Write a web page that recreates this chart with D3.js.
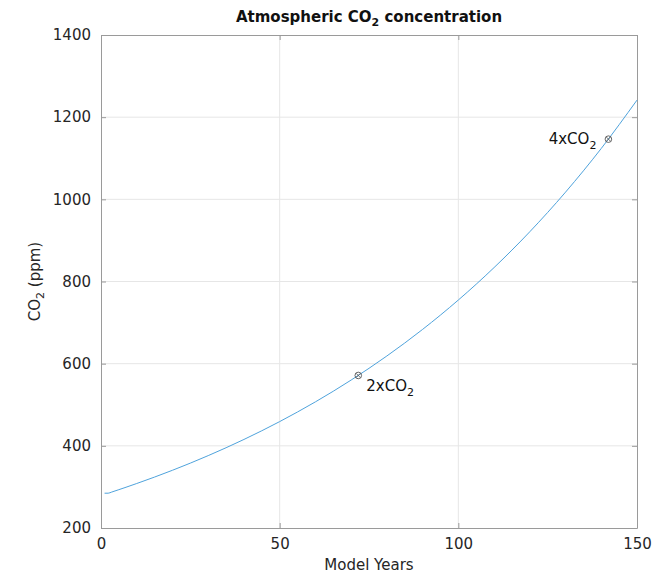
<!DOCTYPE html>
<html>
<head>
<meta charset="utf-8">
<script src="https://cdn.jsdelivr.net/npm/d3@7"></script>
<style>
  body { margin: 0; background: #fff; }
  text { font-family: "DejaVu Sans", sans-serif; }
</style>
</head>
<body>
<div id="wrapper"></div>
<script>
// values
const years = [1, 2, 3, 5, 7, 10, 15, 20, 30, 40, 50, 60, 70, 80, 90, 100, 110, 120, 130, 140, 150]
const co2 = [284.7, 284.7, 287.5, 293.3, 299.2, 308.3, 324.0, 340.5, 376.2, 415.5, 459.0, 507.0, 560.1, 618.7, 683.4, 754.9, 833.9, 921.1, 1017.5, 1123.9, 1241.5]
const markYears = [72, 142]
const markValues = [571.3, 1146.5]
const markLabels = ["2x", "4x"]
const xTicks = [0, 50, 100, 150]
const yTicks = [200, 400, 600, 800, 1000, 1200, 1400]

function draw() {
    const dimension = {
        width: 657,
        height: 575,
        margin: { top: 35, left: 101, right: 20, bottom: 47 }
    }
    dimension.boundedWidth = dimension.width - dimension.margin.left - dimension.margin.right
    dimension.boundedHeight = dimension.height - dimension.margin.top - dimension.margin.bottom

    const svg = d3.select("#wrapper")
        .append("svg")
        .attr("width", dimension.width)
        .attr("height", dimension.height)

    const bounds = svg.append("g")
        .attr("transform", `translate(${dimension.margin.left},${dimension.margin.top})`)

    const x = d3.scaleLinear().domain([0, 150]).range([0, dimension.boundedWidth])
    const y = d3.scaleLinear().domain([200, 1400]).range([dimension.boundedHeight, 0])

    // grid
    bounds.append("g").selectAll("line")
        .data(xTicks.slice(1, -1))
        .enter().append("line")
        .attr("x1", d => x(d)).attr("x2", d => x(d))
        .attr("y1", 0).attr("y2", dimension.boundedHeight)
        .attr("stroke", "#e6e6e6")
    bounds.append("g").selectAll("line")
        .data(yTicks.slice(1, -1))
        .enter().append("line")
        .attr("y1", d => y(d)).attr("y2", d => y(d))
        .attr("x1", 0).attr("x2", dimension.boundedWidth)
        .attr("stroke", "#e6e6e6")

    // axes (inward ticks, box)
    const tickColor = "#262626"
    const fmt = d3.format("d")
    const xAxis = bounds.append("g")
        .attr("transform", `translate(0,${dimension.boundedHeight})`)
        .call(d3.axisBottom(x).tickValues(xTicks).tickFormat(fmt).tickSizeInner(-5).tickSizeOuter(0).tickPadding(10))
    const yAxis = bounds.append("g")
        .call(d3.axisLeft(y).tickValues(yTicks).tickFormat(fmt).tickSizeInner(-5).tickSizeOuter(0).tickPadding(10))
    const xTop = bounds.append("g")
        .call(d3.axisTop(x).tickValues(xTicks).tickSizeInner(-5).tickSizeOuter(0).tickFormat(""))
    const yRight = bounds.append("g")
        .attr("transform", `translate(${dimension.boundedWidth},0)`)
        .call(d3.axisRight(y).tickValues(yTicks).tickSizeInner(-5).tickSizeOuter(0).tickFormat(""))

    ;[xAxis, yAxis, xTop, yRight].forEach(a => {
        a.select(".domain").attr("stroke", "#9a9a9a")
        a.selectAll(".tick line").attr("stroke", "#9a9a9a")
        a.selectAll(".tick text").attr("fill", tickColor).style("font-size", "15px")
            .style("font-family", "DejaVu Sans, sans-serif")
    })

    // curve
    const line = d3.line()
        .x((d, i) => x(years[i]))
        .y(d => y(d))
        .curve(d3.curveMonotoneX)
    bounds.append("path")
        .datum(co2)
        .attr("d", line)
        .attr("fill", "none")
        .attr("stroke", "#4fa3dc")
        .attr("stroke-width", 1)

    // markers
    const marks = bounds.append("g").selectAll("g")
        .data(markYears)
        .enter().append("g")
        .attr("transform", (d, i) => `translate(${x(d)},${y(markValues[i])})`)
    marks.append("circle").attr("r", 3.3).attr("fill", "none").attr("stroke", "#555").attr("stroke-width", 0.9)
    marks.append("path").attr("d", "M-2.2,-2.2L2.2,2.2M-2.2,2.2L2.2,-2.2").attr("stroke", "#555").attr("stroke-width", 0.8)

    const labels = bounds.append("g").selectAll("text")
        .data(markYears)
        .enter().append("text")
        .attr("x", (d, i) => i === 0 ? x(d) + 8 : x(d) - 12)
        .attr("y", (d, i) => y(markValues[i]) + (i === 0 ? 16 : 5))
        .attr("text-anchor", (d, i) => i === 0 ? "start" : "end")
        .attr("fill", "#111")
        .style("font-size", "15px")
    labels.append("tspan").text((d, i) => markLabels[i] + "CO")
    labels.append("tspan").attr("dy", 5).style("font-size", "11px").text("2")

    // title
    const title = svg.append("text")
        .attr("x", dimension.margin.left + dimension.boundedWidth / 2)
        .attr("y", 22)
        .attr("text-anchor", "middle")
        .attr("fill", "#111")
        .style("font-size", "15px")
        .style("font-weight", "bold")
    title.append("tspan").text("Atmospheric CO")
    title.append("tspan").attr("dy", 4).style("font-size", "11px").text("2")
    title.append("tspan").attr("dy", -4).text(" concentration")

    // axis labels
    svg.append("text")
        .attr("x", dimension.margin.left + dimension.boundedWidth / 2)
        .attr("y", 570)
        .attr("text-anchor", "middle")
        .attr("fill", tickColor)
        .style("font-size", "15px")
        .text("Model Years")

    const yl = svg.append("text")
        .attr("transform", `translate(40,${dimension.margin.top + dimension.boundedHeight / 2}) rotate(-90)`)
        .attr("text-anchor", "middle")
        .attr("fill", tickColor)
        .style("font-size", "15px")
    yl.append("tspan").text("CO")
    yl.append("tspan").attr("dy", 4).style("font-size", "11px").text("2")
    yl.append("tspan").attr("dy", -4).text(" (ppm)")
}

draw()
</script>
</body>
</html>
